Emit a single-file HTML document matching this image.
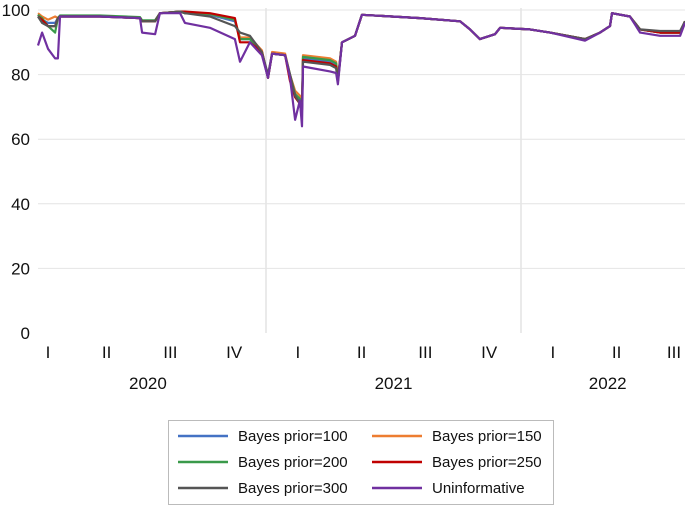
<!DOCTYPE html>
<html><head><meta charset="utf-8"><style>
body{margin:0;background:#fff;}
svg text{font-family:"Liberation Sans",sans-serif;fill:#111;}
</style></head><body>
<svg id="chart" width="685" height="505" xmlns="http://www.w3.org/2000/svg"></svg>
<script>
const times=[2020.106,2020.122,2020.145,2020.173,2020.184,2020.192,2020.349,2020.506,2020.514,2020.565,2020.584,2020.663,2020.682,2020.780,2020.878,2020.898,2020.937,2020.984,2021.008,2021.024,2021.075,2021.094,2021.114,2021.133,2021.141,2021.145,2021.251,2021.275,2021.282,2021.298,2021.349,2021.376,2021.604,2021.761,2021.800,2021.839,2021.898,2021.918,2022.035,2022.114,2022.251,2022.310,2022.349,2022.357,2022.427,2022.467,2022.545,2022.624,2022.643];
const prior100=[98.5,97,96,96,97.5,98,98,97.5,96.5,96.5,99,99.5,99,98.5,96.5,91,91,87,79,86.5,86,80,74,72,70,85,84,83,78,90,92,98.5,97.5,96.5,94,91,92.5,94.5,94,93,91,93,95,99,98,94,93,93,96.5];
const prior150=[99,98,97,98,97.5,98,98,97.5,96.5,96.5,99,99.5,99,98.8,97,91.5,91.5,87.5,79,87,86.5,80,75,73.5,71,86,85,84,79,90,92,98.5,97.5,96.5,94,91,92.5,94.5,94,93,91,93,95,99,98,94,93,93,96.5];
const prior200=[98.5,97.5,95,93,97.5,98.3,98.3,97.8,96.8,96.8,99,99.5,99,98.8,97,91,91,87,79,86.5,86,80,74,72.5,70.5,85.5,84.5,83.5,78.5,90,92,98.5,97.5,96.5,94,91,92.5,94.5,94,93,91,93,95,99,98,94,93,93,96.5];
const prior250=[98,97,95,95,97.5,98,98,97.5,96.5,96.5,99,99.5,99.5,99,97.5,90,90,87,79,86.5,86,78,73,71,69,84.5,83.5,82.5,78,90,92,98.5,97.5,96.5,94,91,92.5,94.5,94,93,91,93,95,99,98,94,93,93,96.5];
const prior300=[98,96,95,95,97.5,98,98,97.5,96.5,96.5,99,99.5,99,98,95,93,92,87,80,86.5,86,80,73.5,71,69.5,84,83,82,78,90,92,98.5,97.5,96.5,94,91,92.5,94.5,94,93,91,93,95,99,98,94,93.5,93.5,96.5];
const uninformative=[89,93,88,85,85,98,98,97.5,93,92.5,99,99,96,94.5,91,84,90,86,79,86.5,86,79,66,72,64,82.5,81,80.5,77,90,92,98.5,97.5,96.5,94,91,92.5,94.5,94,93,90.5,93,95,99,98,93,92,92,96];
const seriesNames=["Bayes prior=100","Bayes prior=150","Bayes prior=200","Bayes prior=250","Bayes prior=300","Uninformative"];
const seriesData=[prior100,prior150,prior200,prior250,prior300,uninformative];
const colors=["#4472c4","#ed7d31","#3a9a4a","#c00000","#555555","#7030a0"];
const yTicks=[0,20,40,60,80,100];
const quarterLabels=["I","II","III","IV","I","II","III","IV","I","II","III"];
const quarterTimes=[2020.125,2020.375,2020.625,2020.875,2021.125,2021.375,2021.625,2021.875,2022.125,2022.375,2022.6];
const yearLabels=["2020","2021","2022"];
const yearTimes=[2020.537,2021.5,2022.34];

const NS="http://www.w3.org/2000/svg";
const svg=document.getElementById('chart');
const X=t=>266+(t-2021)*255;
const Y=v=>333-v*3.23;
function mk(tag,at){const e=document.createElementNS(NS,tag);for(const k in at)e.setAttribute(k,at[k]);svg.appendChild(e);return e;}
yTicks.forEach(v=>{
 if(v>0){const g=mk('line',{x1:38,x2:685,y1:Y(v),y2:Y(v),stroke:'#e4e4e4','stroke-width':1});
 
 }
 const t=mk('text',{x:30,y:Y(v)+6,'text-anchor':'end','font-size':17});
 t.textContent=v;
 
 
});
[2021,2022].forEach(yr=>{
 const g=mk('line',{x1:X(yr),x2:X(yr),y1:8,y2:333,stroke:'#e4e4e4','stroke-width':1.5});
 
 
});
quarterLabels.forEach((q,i)=>{
 const t=mk('text',{x:Math.max(48,X(quarterTimes[i])),y:358,'text-anchor':'middle','font-size':17});
 t.textContent=q;
 
 
});
yearLabels.forEach((y,i)=>{
 const t=mk('text',{x:X(yearTimes[i]),y:389,'text-anchor':'middle','font-size':17});
 t.textContent=y;
 
 
});
seriesData.forEach((d,s)=>{
 let p='';
 d.forEach((v,i)=>{p+=(i?'L':'M')+X(times[i]).toFixed(1)+','+Y(v).toFixed(1);});
 const l=mk('path',{d:p,fill:'none',stroke:colors[s],'stroke-width':2.2,'stroke-linejoin':'round'});
 
 
});
const box=mk('rect',{x:168.5,y:420.5,width:385,height:84,fill:'#fff',stroke:'#bbb'});


seriesNames.forEach((n,i)=>{
 const col=i%2,row=Math.floor(i/2);
 const lx=col?372:178, ly=436+row*26;
 const ln=mk('line',{x1:lx,x2:lx+50,y1:ly,y2:ly,stroke:colors[i],'stroke-width':2.5});
 
 
 const t=mk('text',{x:lx+60,y:ly+5,'font-size':15});
 t.textContent=n;
 
 
});
</script>
</body></html>
